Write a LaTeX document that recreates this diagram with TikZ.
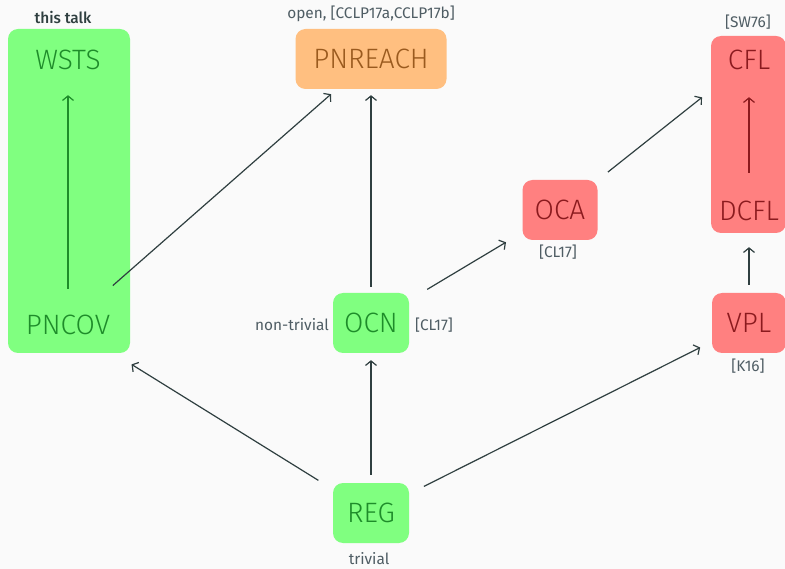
\documentclass[tikz,border=0pt]{standalone}
\usepackage{fontspec}
\setmainfont{Fira Sans Light}
\newfontfamily\noteface{Fira Sans}
\newfontfamily\talkface{Fira Sans Medium}
\usetikzlibrary{arrows.meta}
\definecolor{bg}{HTML}{FAFAFA}
\definecolor{boxgreen}{HTML}{80FF80}
\definecolor{textgreen}{HTML}{1E8C2A}
\definecolor{boxred}{HTML}{FF8080}
\definecolor{textred}{HTML}{8B1A1E}
\definecolor{boxorange}{HTML}{FFBF80}
\definecolor{textorange}{HTML}{9A5A1E}
\definecolor{ink}{HTML}{2F3F40}
\definecolor{notegray}{HTML}{4F5D64}
\tikzset{
    class/.style={minimum width=76pt, minimum height=60pt, inner sep=0pt,
        font=\fontsize{28}{32}\selectfont},
    greenbox/.style={class, fill=boxgreen, text=textgreen, rounded corners=10pt},
    redbox/.style={class, fill=boxred, text=textred, rounded corners=10pt},
    orangebox/.style={class, fill=boxorange, text=textorange, rounded corners=10pt},
    note/.style={text=notegray, font=\noteface\fontsize{15.4}{17}\selectfont, inner sep=0pt},
    reduction/.style={draw=ink, line width=1.2pt,
        -{Straight Barb[length=4.5pt, width=11pt, line width=1.2pt]}}
}
\begin{document}
\begin{tikzpicture}[x=1pt, y=-1pt]
\fill[bg] (0,0) rectangle (785,569);
\useasboundingbox (0,0) rectangle (785,569);
% tall boxes
\fill[boxgreen, rounded corners=10pt] (8,29) rectangle (130,353);
\fill[boxred, rounded corners=10pt] (711,36) rectangle (786,233);
% classes
\node[class, text=textgreen] (wsts) at (68,60) {WSTS};
\node[class, text=textgreen] (pncov) at (68,325) {PNCOV};
\node[orangebox, minimum width=151pt] (pnreach) at (371,59) {PNREACH};
\node[redbox, minimum width=75pt] (oca) at (560,210) {OCA};
\node[class, text=textred] (cfl) at (749,60) {CFL};
\node[class, text=textred] (dcfl) at (749,211) {DCFL};
\node[greenbox] (ocn) at (371,323) {OCN};
\node[redbox, minimum width=74pt] (vpl) at (749,323) {VPL};
\node[greenbox] (reg) at (371,513) {REG};
% notes
\node[note, text=ink, font=\talkface\fontsize{15.4}{17}\selectfont] (talk) at (63,17) {this talk};
\node[note] (open) at (371,14) {open, [CCLP17a,CCLP17b]};
\node[note] (sw) at (748,22) {[SW76]};
\node[note] (cloca) at (558,252) {[CL17]};
\node[note] (nontrivial) at (292,325) {non-trivial};
\node[note] (clocn) at (434,325) {[CL17]};
\node[note] (k) at (748,366) {[K16]};
\node[note] (trivial) at (369,559) {trivial};
% reductions
\draw[reduction, draw=textgreen, shorten <=6pt, shorten >=5pt] (pncov) -- (wsts);
\draw[reduction, draw=textred, shorten <=8pt, shorten >=7pt] (dcfl) -- (cfl);
\draw[reduction, shorten <=14pt, shorten >=7.5pt] (pncov) -- (pnreach);
\draw[reduction, shorten <=6pt, shorten >=6pt] (ocn) -- (pnreach);
\draw[reduction, shorten <=21pt, shorten >=19pt] (ocn) -- (oca);
\draw[reduction, shorten <=13pt, shorten >=11.5pt] (oca) -- (cfl);
\draw[reduction, shorten <=8pt, shorten >=6pt] (vpl) -- (dcfl);
\draw[reduction, shorten <=17pt, shorten >=25pt] (reg) -- (pncov);
\draw[reduction, shorten <=8pt, shorten >=7pt] (reg) -- (ocn);
\draw[reduction, shorten <=16.5pt, shorten >=13pt] (reg) -- (vpl);
\end{tikzpicture}
\end{document}
